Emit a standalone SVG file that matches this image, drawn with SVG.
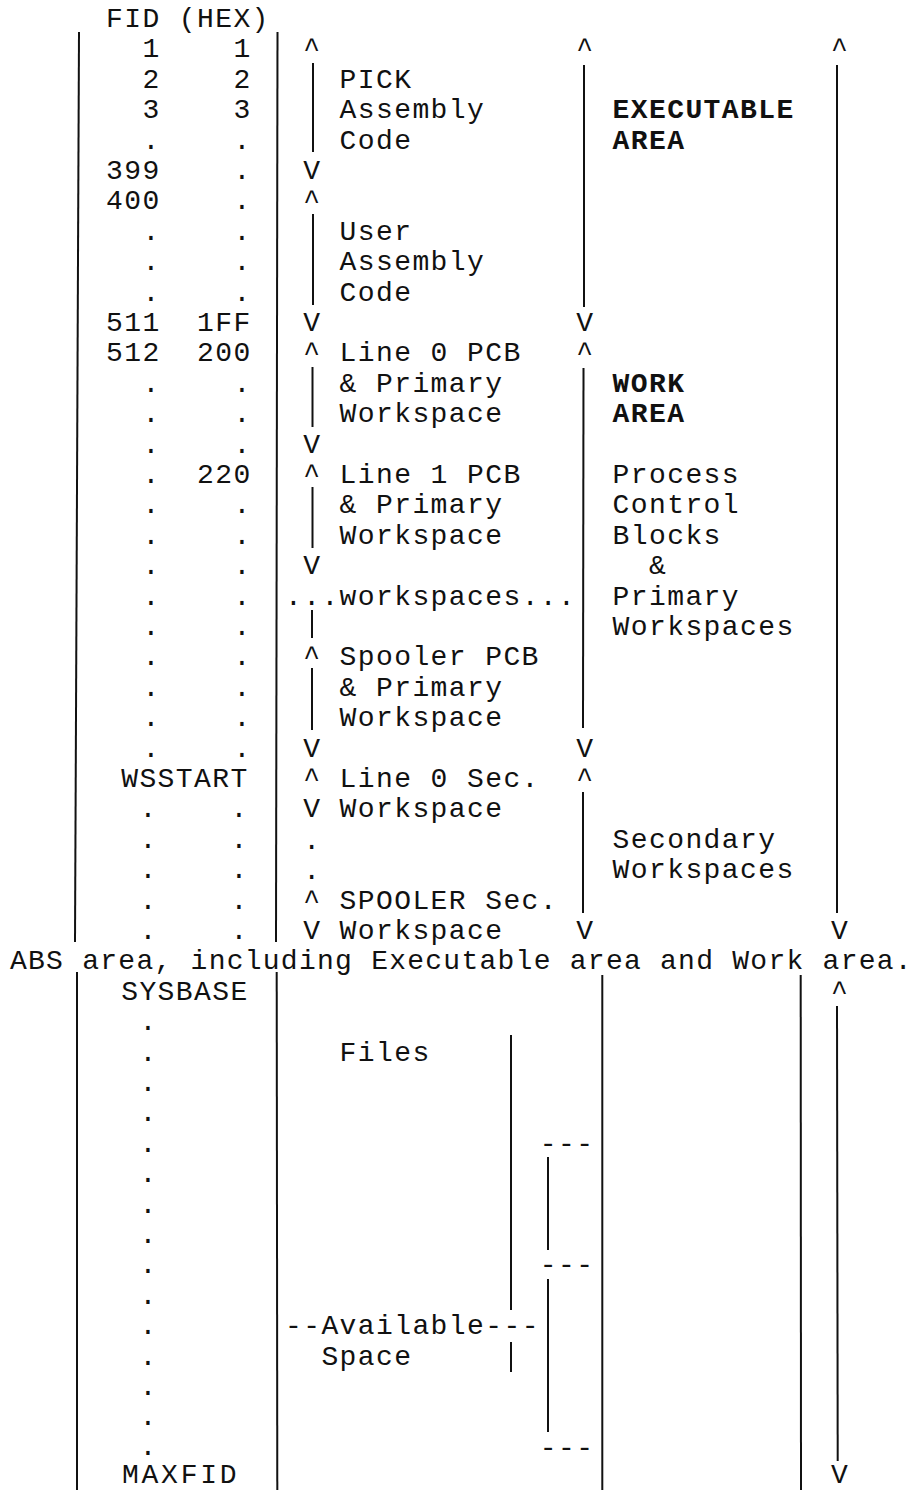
<svg xmlns="http://www.w3.org/2000/svg" width="917" height="1490" viewBox="0 0 917 1490">
<style>
.t{font-family:"Liberation Mono","Courier New",monospace;font-size:28px;letter-spacing:1.4px;fill:#111}
.b{font-weight:bold}
.ln{stroke:#111;stroke-width:2;fill:none}
</style>
<rect width="917" height="1490" fill="#fff"/>
<g id="fid-column" class="t">
<g transform="translate(3,0)">
<text x="103" y="27">FID (HEX)</text>
<text x="139.4" y="57.4">1</text><text x="230.4" y="57.4">1</text>
<text x="139.4" y="87.8">2</text><text x="230.4" y="87.8">2</text>
<text x="139.4" y="118.2">3</text><text x="230.4" y="118.2">3</text>
<text x="139.4" y="148.6">.</text><text x="230.4" y="148.6">.</text>
<text x="103" y="179">399</text><text x="230.4" y="179">.</text>
<text x="103" y="209.4">400</text><text x="230.4" y="209.4">.</text>
<text x="139.4" y="239.8">.</text><text x="230.4" y="239.8">.</text>
<text x="139.4" y="270.2">.</text><text x="230.4" y="270.2">.</text>
<text x="139.4" y="300.6">.</text><text x="230.4" y="300.6">.</text>
<text x="103" y="331">511</text><text x="194" y="331">1FF</text>
<text x="103" y="361.4">512</text><text x="194" y="361.4">200</text>
<text x="139.4" y="391.8">.</text><text x="230.4" y="391.8">.</text>
<text x="139.4" y="422.2">.</text><text x="230.4" y="422.2">.</text>
<text x="139.4" y="452.6">.</text><text x="230.4" y="452.6">.</text>
<text x="139.4" y="483">.</text><text x="194" y="483">220</text>
<text x="139.4" y="513.4">.</text><text x="230.4" y="513.4">.</text>
<text x="139.4" y="543.8">.</text><text x="230.4" y="543.8">.</text>
<text x="139.4" y="574.2">.</text><text x="230.4" y="574.2">.</text>
<text x="139.4" y="604.6">.</text><text x="230.4" y="604.6">.</text>
<text x="139.4" y="635">.</text><text x="230.4" y="635">.</text>
<text x="139.4" y="665.4">.</text><text x="230.4" y="665.4">.</text>
<text x="139.4" y="695.8">.</text><text x="230.4" y="695.8">.</text>
<text x="139.4" y="726.2">.</text><text x="230.4" y="726.2">.</text>
<text x="139.4" y="756.6">.</text><text x="230.4" y="756.6">.</text>
</g>
<text x="121.2" y="787">WSSTART</text>
<text x="139.4" y="817.4">.</text><text x="230.4" y="817.4">.</text>
<text x="139.4" y="847.8">.</text><text x="230.4" y="847.8">.</text>
<text x="139.4" y="878.2">.</text><text x="230.4" y="878.2">.</text>
<text x="139.4" y="908.6">.</text><text x="230.4" y="908.6">.</text>
<text x="139.4" y="939">.</text><text x="230.4" y="939">.</text>
</g>
<g id="section-labels" class="t">
<text x="339.6" y="87.8">PICK</text>
<text x="339.6" y="118.2">Assembly</text>
<text x="339.6" y="148.6">Code</text>
<text x="339.6" y="239.8">User</text>
<text x="339.6" y="270.2">Assembly</text>
<text x="339.6" y="300.6">Code</text>
<text x="339.6" y="361.4">Line 0 PCB</text>
<text x="339.6" y="391.8">&amp; Primary</text>
<text x="339.6" y="422.2">Workspace</text>
<text x="339.6" y="483">Line 1 PCB</text>
<text x="339.6" y="513.4">&amp; Primary</text>
<text x="339.6" y="543.8">Workspace</text>
<text x="285" y="604.6">...workspaces...</text>
<text x="339.6" y="665.4">Spooler PCB</text>
<text x="339.6" y="695.8">&amp; Primary</text>
<text x="339.6" y="726.2">Workspace</text>
<text x="339.6" y="787">Line 0 Sec.</text>
<text x="339.6" y="817.4">Workspace</text>
<text x="339.6" y="908.6">SPOOLER Sec.</text>
<text x="339.6" y="939">Workspace</text>
</g>
<g id="area-labels" class="t">
<text class="b" x="612.6" y="118.2">EXECUTABLE</text>
<text class="b" x="612.6" y="148.6">AREA</text>
<text class="b" x="612.6" y="391.8">WORK</text>
<text class="b" x="612.6" y="422.2">AREA</text>
<text x="612.6" y="483">Process</text>
<text x="612.6" y="513.4">Control</text>
<text x="612.6" y="543.8">Blocks</text>
<text x="649" y="574.2">&amp;</text>
<text x="612.6" y="604.6">Primary</text>
<text x="612.6" y="635">Workspaces</text>
<text x="612.6" y="847.8">Secondary</text>
<text x="612.6" y="878.2">Workspaces</text>
</g>
<g id="abs-caption" class="t">
<text x="10" y="969.4" textLength="903" lengthAdjust="spacing">ABS area, including Executable area and Work area.</text>
</g>
<g id="file-area" class="t">
<text x="121.2" y="999.8">SYSBASE</text>
<text x="139.4" y="1030.2">.</text>
<text x="139.4" y="1060.6">.</text>
<text x="139.4" y="1091">.</text>
<text x="139.4" y="1121.4">.</text>
<text x="139.4" y="1151.8">.</text>
<text x="139.4" y="1182.2">.</text>
<text x="139.4" y="1212.6">.</text>
<text x="139.4" y="1243">.</text>
<text x="139.4" y="1273.4">.</text>
<text x="139.4" y="1303.8">.</text>
<text x="139.4" y="1334.2">.</text>
<text x="139.4" y="1364.6">.</text>
<text x="139.4" y="1395">.</text>
<text x="139.4" y="1425.4">.</text>
<text x="139.4" y="1454.8">.</text>
<text x="122" y="1483" textLength="116">MAXFID</text>
<text x="339.6" y="1060.6">Files</text>
<text x="285" y="1334.2">--Available---</text>
<text x="321.4" y="1364.6">Space</text>
<text x="539.8" y="1151.8">---</text>
<text x="539.8" y="1273.4">---</text>
<text x="539.8" y="1455.8">---</text>
</g>
<g id="connectors">
<g class="ln">
<line x1="79" y1="32" x2="75" y2="942"/>
<line x1="277.5" y1="32" x2="276" y2="942"/>
<line x1="313" y1="63" x2="313" y2="152"/>
<line x1="313" y1="214" x2="313" y2="305"/>
<line x1="312.5" y1="367" x2="312.5" y2="427"/>
<line x1="312.5" y1="487" x2="312.5" y2="548"/>
<line x1="312" y1="610" x2="312" y2="638"/>
<line x1="312" y1="668" x2="312" y2="730"/>
<line x1="584" y1="65" x2="584" y2="307"/>
<line x1="583.5" y1="368" x2="583" y2="728"/>
<line x1="583" y1="792" x2="583" y2="913"/>
<line x1="837" y1="65" x2="837" y2="913"/>
<line x1="77" y1="972" x2="77" y2="1490"/>
<line x1="276.7" y1="972" x2="277.3" y2="1490"/>
<line x1="602.3" y1="975" x2="602.3" y2="1490"/>
<line x1="800.7" y1="975" x2="801" y2="1490"/>
<line x1="837" y1="1006" x2="837.7" y2="1461"/>
<line x1="511" y1="1035" x2="511" y2="1310"/>
<line x1="511" y1="1342" x2="511" y2="1372"/>
<line x1="548" y1="1157" x2="548" y2="1250"/>
<line x1="548" y1="1279" x2="548" y2="1432"/>
</g>
<g class="t">
<text x="303.2" y="57.4">^</text>
<text x="303.2" y="179">V</text>
<text x="303.2" y="209.4">^</text>
<text x="303.2" y="331">V</text>
<text x="303.2" y="361.4">^</text>
<text x="303.2" y="452.6">V</text>
<text x="303.2" y="483">^</text>
<text x="303.2" y="574.2">V</text>
<text x="303.2" y="665.4">^</text>
<text x="303.2" y="756.6">V</text>
<text x="303.2" y="787">^</text>
<text x="303.2" y="817.4">V</text>
<text x="303.2" y="849">.</text>
<text x="303.2" y="879">.</text>
<text x="303.2" y="908.6">^</text>
<text x="303.2" y="939">V</text>
<text x="576.2" y="57.4">^</text>
<text x="576.2" y="331">V</text>
<text x="576.2" y="361.4">^</text>
<text x="576.2" y="756.6">V</text>
<text x="576.2" y="787">^</text>
<text x="576.2" y="939">V</text>
<text x="831" y="57.4">^</text>
<text x="831" y="939">V</text>
<text x="831" y="999.8">^</text>
<text x="831" y="1483">V</text>
</g>
</g>
</svg>
